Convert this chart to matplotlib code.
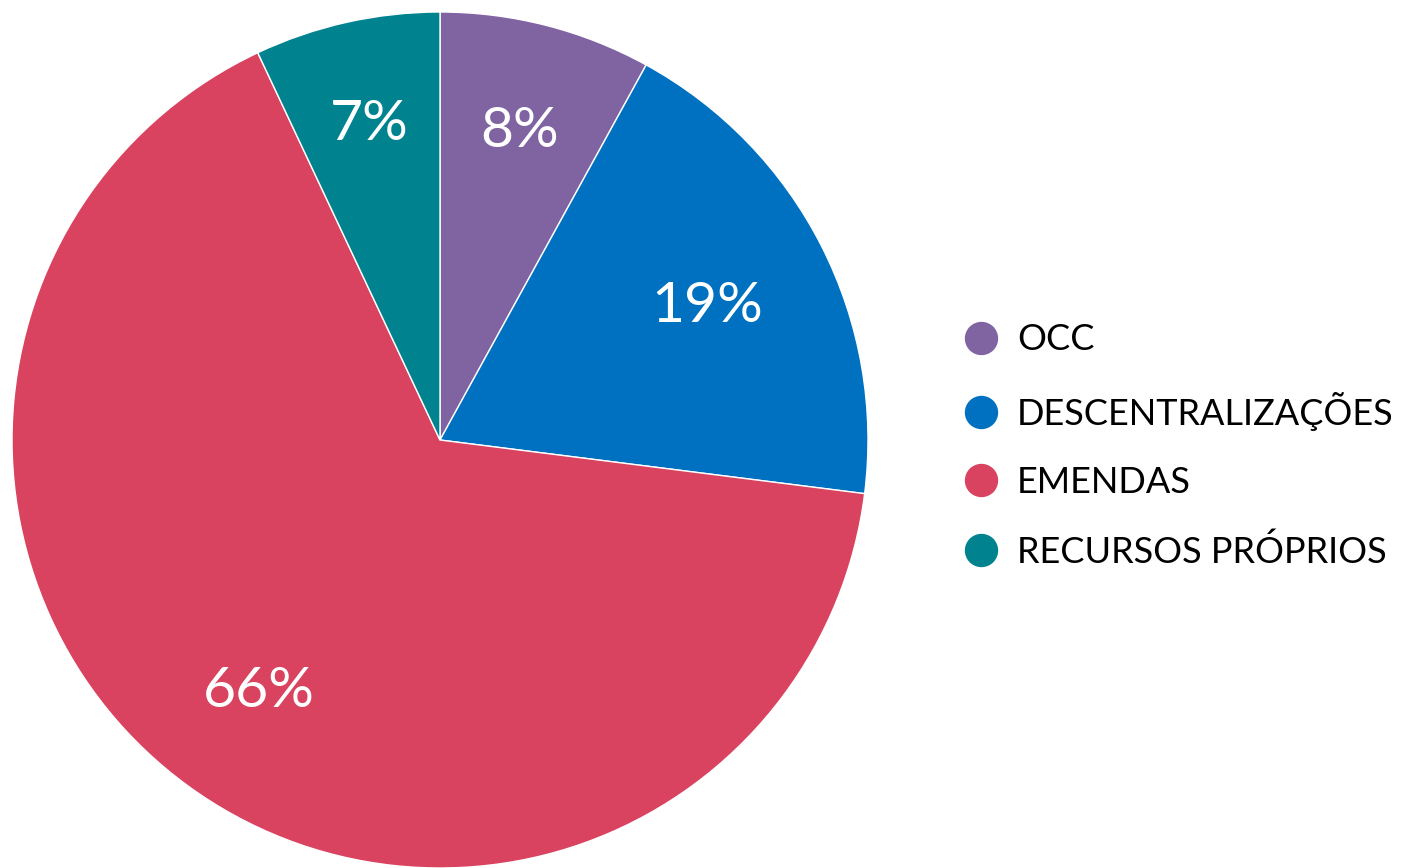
import numpy as np
import matplotlib.pyplot as plt
from matplotlib.lines import Line2D

# Shares of the budget, in percent.
categories = ["OCC", "DESCENTRALIZAÇÕES", "EMENDAS", "RECURSOS PRÓPRIOS"]
shares = [8, 19, 66, 7]
colours = ["#8064A2", "#0070C0", "#D9435F", "#00828F"]
# How far out from the centre each percent label sits (fraction of radius).
label_dist = [0.75, 0.70, 0.72, 0.76]

plt.rcParams["font.family"] = ["Lato", "DejaVu Sans"]

fig = plt.figure(figsize=(14.05, 8.68), dpi=100)
ax = fig.add_axes([12 / 1405, 0, 856 / 1405, 856 / 868])

wedges, texts, autotexts = ax.pie(
    shares,
    colors=colours,
    startangle=90,
    counterclock=False,
    autopct="%d%%",
    radius=1,
    wedgeprops=dict(edgecolor="white", linewidth=1),
    textprops=dict(color="white", fontsize=41),
)
# move the labels to their own distance along the middle of each wedge
for w, t, d in zip(wedges, autotexts, label_dist):
    mid = np.deg2rad((w.theta1 + w.theta2) / 2)
    t.set_position((d * np.cos(mid), d * np.sin(mid) - 0.005))

ax.set_xlim(-1, 1)
ax.set_ylim(-1, 1)
ax.set_aspect("equal")
ax.axis("off")

# Legend with round markers.
handles = [Line2D([], [], marker="o", linestyle="", markersize=23,
                  markerfacecolor=c, markeredgecolor=c) for c in colours]
fig.legend(handles, categories, loc="center left",
           bbox_to_anchor=(963 / 1405, 1 - 446 / 868), frameon=False,
           fontsize=26, labelspacing=0.98, handletextpad=0.5,
           handlelength=1.0, borderaxespad=0, borderpad=0)

fig.savefig("out.png", dpi=100)
